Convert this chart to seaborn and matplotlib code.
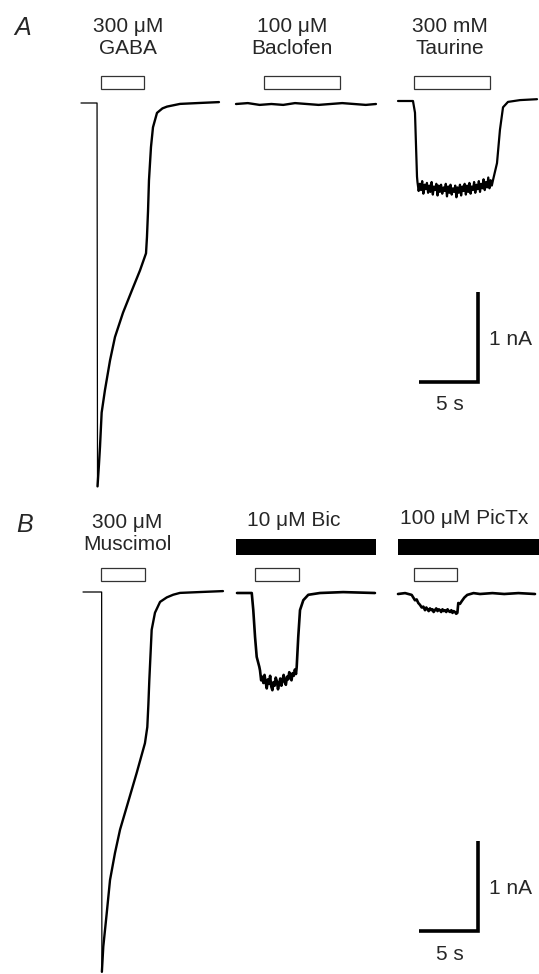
import numpy as np
import pandas as pd
import matplotlib
matplotlib.use("Agg")
import matplotlib.pyplot as plt
from matplotlib.patches import Rectangle
import seaborn as sns

# ---- recorded currents (time in s from trace start, current in nA) ----
gaba_t = [0, 1.36, 1.40, 1.52, 1.61, 1.75, 2.03, 2.46, 2.88, 3.56, 4.32, 5.00, 5.51,
          5.59, 5.68, 5.76, 5.93, 6.10, 6.44, 6.90, 7.29, 8.39, 10.0, 11.69]
gaba_i = [0, 0, -4.26, -4.02, -3.82, -3.44, -3.19, -2.86, -2.60, -2.33, -2.08, -1.86,
          -1.67, -1.49, -1.20, -0.86, -0.49, -0.27, -0.11, -0.06, -0.04, -0.01, 0.0, 0.01]

bacl_t = [0, 1.0, 2.0, 3.0, 4.0, 5.0, 6.0, 7.0, 8.0, 9.0, 10.0, 11.0, 11.86]
bacl_i = [0, 0.01, -0.01, 0.0, -0.01, 0.01, 0.0, -0.01, 0.0, 0.01, 0.0, -0.01, 0.0]

taur_pre_t = [0, 1.27, 1.44, 1.53, 1.61]
taur_pre_i = [0, 0, -0.13, -0.51, -0.84]
taur_plateau = [-0.90, -1.00, -0.92, -0.99, -0.89, -1.03, -0.93, -0.98, -0.91, -1.02,
                -0.94, -1.01, -0.90, -1.04, -0.95, -0.99, -0.92, -1.05, -0.94, -1.01,
                -0.93, -1.03, -0.96, -1.00, -0.92, -1.06, -0.95, -1.02, -0.93, -1.04,
                -0.97, -1.01, -0.94, -1.07, -0.96, -1.02, -0.93, -1.05, -0.95, -1.00,
                -0.92, -1.04, -0.94, -1.01, -0.91, -1.03, -0.95, -0.99, -0.90, -1.02,
                -0.93, -0.98, -0.89, -1.01, -0.92, -0.97, -0.87, -0.99, -0.90, -0.96,
                -0.85, -0.97, -0.88, -0.94]
taur_post_t = [8.05, 8.39, 8.64, 8.90, 9.32, 10.34, 11.78]
taur_post_i = [-0.88, -0.69, -0.32, -0.07, -0.01, 0.01, 0.02]

musc_t = [0, 1.58, 1.60, 1.66, 1.72, 2.01, 2.29, 2.71, 3.14, 3.70, 4.55, 5.25, 5.45,
          5.54, 5.62, 5.82, 6.10, 6.53, 7.10, 7.65, 8.22, 10.0, 11.86]
musc_i = [0, 0, -4.22, -4.08, -3.94, -3.57, -3.20, -2.90, -2.64, -2.39, -2.01, -1.68,
          -1.50, -1.25, -0.98, -0.42, -0.23, -0.11, -0.06, -0.03, -0.01, 0.0, 0.01]

bic_pre_t = [0, 1.25, 1.38, 1.53, 1.67, 1.89]
bic_pre_i = [0, 0, -0.19, -0.49, -0.71, -0.82]
bic_plateau = [-0.86, -0.97, -0.93, -1.00, -0.91, -0.99, -1.06, -0.96, -1.01, -0.92,
               -1.04, -1.08, -0.99, -1.03, -0.94, -0.98, -1.07, -1.01, -0.95, -1.03,
               -0.97, -0.91, -0.99, -1.02, -0.93, -0.96, -0.88, -0.94, -0.97, -0.89,
               -0.92, -0.85, -0.90]
bic_post_t = [5.06, 5.19, 5.34, 5.62, 6.04, 7.03, 9.0, 11.69]
bic_post_i = [-0.82, -0.49, -0.19, -0.08, -0.02, 0.0, 0.01, 0.0]

pic_t = [0, 0.60, 1.16, 1.30, 1.44, 1.58, 1.72, 1.86, 2.01, 2.15, 2.29, 2.40, 2.50,
         2.60, 2.71, 2.82, 2.92, 3.02, 3.13, 3.24, 3.35, 3.46, 3.56, 3.66, 3.77, 3.88,
         3.98, 4.09, 4.20, 4.30, 4.41, 4.52, 4.62, 4.72, 4.83, 4.93, 5.03, 5.11, 5.25,
         5.40, 5.62, 5.87, 6.40, 6.95, 8.0, 9.0, 10.2, 11.61]
pic_i = [0, 0.01, -0.01, -0.04, -0.07, -0.06, -0.10, -0.12, -0.15, -0.14, -0.18,
         -0.15, -0.17, -0.19, -0.16, -0.18, -0.17, -0.20, -0.18, -0.16, -0.19, -0.17,
         -0.18, -0.20, -0.17, -0.19, -0.18, -0.20, -0.17, -0.19, -0.20, -0.18, -0.21,
         -0.19, -0.20, -0.22, -0.21, -0.10, -0.11, -0.08, -0.04, -0.01, 0.01, 0.0,
         0.01, 0.0, 0.01, 0.0]

# drug application periods (s, from trace start)
gaba_app = (1.69, 5.34)
bacl_app = (2.37, 8.81)
taur_app = (1.36, 7.80)
musc_app = (1.53, 5.25)
bic_app = (1.53, 5.25)
pic_app = (1.36, 4.99)
bic_block = (-0.08, 11.78)
pic_block = (0.0, 11.95)

scale_t = 5   # s
scale_i = 1   # nA

# ---- layout (pixels of the 539 x 974 figure) ----
W, H = 539, 974
PX_S = 11.8    # px per second
PX_NA = 90.0   # px per nA
FS = 15


def to_data(x, y):
    return x / PX_S, -y / PX_NA


sns.set_theme(style="white")
plt.rcParams['font.family'] = ['Liberation Sans', 'DejaVu Sans']

fig = plt.figure(figsize=(W / 100, H / 100), dpi=100)
ax = fig.add_axes([0, 0, 1, 1])
ax.set_xlim(0, W / PX_S)
ax.set_ylim(-H / PX_NA, 0)
ax.axis("off")


def trace(t, i, x0, y0, lw=1.7):
    ox, oy = to_data(x0, y0)
    df = pd.DataFrame({"t": np.asarray(t, float) + ox, "i": np.asarray(i, float) + oy})
    sns.lineplot(data=df, x="t", y="i", estimator=None, sort=False,
                 color="black", lw=lw, ax=ax)


def box(app, x0, ytop, ybot, filled=False):
    ox, _ = to_data(x0, 0)
    yt = -ytop / PX_NA
    yb = -ybot / PX_NA
    ax.add_patch(Rectangle((ox + app[0], yb), app[1] - app[0], yt - yb,
                           facecolor="black" if filled else "white",
                           edgecolor="black" if filled else "#333333",
                           lw=0 if filled else 0.9))


# panel A
trace(gaba_t[:3], gaba_i[:3], 81, 103, lw=0.9)
trace(gaba_t[2:], gaba_i[2:], 81, 103)
trace(bacl_t, bacl_i, 236, 104)
taur_t = taur_pre_t + list(np.linspace(1.65, 7.95, len(taur_plateau))) + taur_post_t
taur_i = taur_pre_i + taur_plateau + taur_post_i
trace(taur_t, taur_i, 398, 101, lw=1.6)

box(gaba_app, 81, 76, 89)
box(bacl_app, 236, 76, 89)
box(taur_app, 398, 76, 89)

# panel B
trace(musc_t[:3], musc_i[:3], 83, 592, lw=0.9)
trace(musc_t[2:], musc_i[2:], 83, 592)
bic_t = bic_pre_t + list(np.linspace(1.95, 5.0, len(bic_plateau))) + bic_post_t
bic_i = bic_pre_i + bic_plateau + bic_post_i
trace(bic_t, bic_i, 237, 593, lw=1.9)
trace(pic_t, pic_i, 398, 594, lw=1.9)

box(musc_app, 83, 568, 581)
box(bic_app, 237, 568, 581)
box(pic_app, 398, 568, 581)
box(bic_block, 237, 539, 555, filled=True)
box(pic_block, 398, 539, 555, filled=True)

# scale bars
for ybar in (382, 931):
    xr, yr = to_data(478, ybar)
    ax.plot([xr - scale_t, xr, xr], [yr, yr, yr + scale_i], color="black",
            lw=2.6, solid_joinstyle="miter", solid_capstyle="butt")
    fig.text(489 / W, 1 - (ybar - 43) / H, "1 nA", fontsize=FS, ha="left", va="center")
    fig.text(450 / W, 1 - (ybar + 23) / H, "5 s", fontsize=FS, ha="center", va="center")


def label(x, y, s, size=FS, **kw):
    fig.text(x / W, 1 - y / H, s, fontsize=size, ha="center", va="center",
             linespacing=1.2, **kw)


label(23, 28, "A", size=18, style="italic")
label(128, 38, "300 μM\nGABA")
label(292, 38, "100 μM\nBaclofen")
label(450, 38, "300 mM\nTaurine")
label(25, 525, "B", size=18, style="italic")
label(127, 533, "300 μM\nMuscimol")
label(294, 520, "10 μM Bic")
label(464, 519, "100 μM PicTx")

fig.savefig("out.png", dpi=100)
